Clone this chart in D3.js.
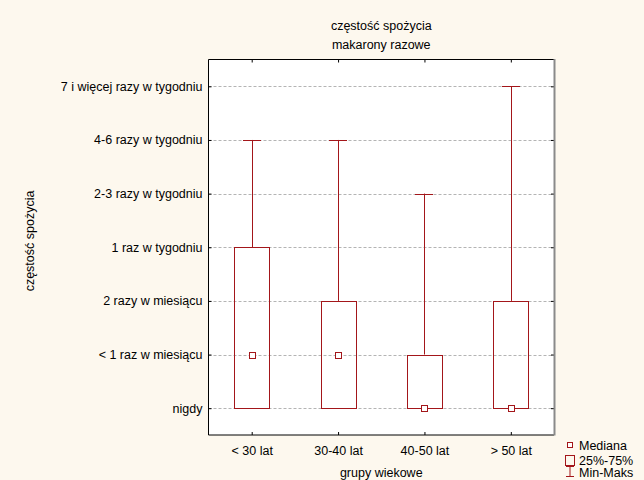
<!DOCTYPE html>
<html>
<head>
<meta charset="utf-8">
<script src="https://cdn.jsdelivr.net/npm/d3@7"></script>
<style>
  body { margin: 0; background: #fdf8ee; }
  svg { display: block; font-family: "Liberation Sans", Arial, sans-serif; }
</style>
</head>
<body>
<div id="chart"></div>
<script>
// data
const groups = ['< 30 lat', '30-40 lat', '40-50 lat', '> 50 lat'];
const levels = ['nigdy', '< 1 raz w miesiącu', '2 razy w miesiącu', '1 raz w tygodniu',
                '2-3 razy w tygodniu', '4-6 razy w tygodniu', '7 i więcej razy w tygodniu'];
const mins    = [0, 0, 0, 0];
const q1s     = [0, 0, 0, 0];
const medians = [1, 1, 0, 0];
const q3s     = [3, 2, 1, 2];
const maxs    = [5, 5, 4, 6];

const W = 644, H = 480;
const margin = { top: 59.5, right: 90, left: 208.5, bottom: 45 };
const red = '#a3161a';
const fs = 12.5;

const svg = d3.select('#chart').append('svg')
  .attr('width', W).attr('height', H);

svg.append('rect').attr('width', W).attr('height', H).attr('fill', '#fdf8ee');

const x = d3.scalePoint().domain(groups)
  .range([margin.left, W - margin.right]).padding(0.5);
const y = d3.scaleLinear().domain([-0.5, 6.5])
  .range([H - margin.bottom, margin.top]);

const x0 = margin.left, x1 = W - margin.right, y0 = margin.top, y1 = H - margin.bottom;

svg.append('rect')
  .attr('x', x0).attr('y', y0).attr('width', x1 - x0).attr('height', y1 - y0)
  .attr('fill', '#fff');

// grid
svg.append('g').selectAll('line')
  .data(d3.range(levels.length))
  .join('line')
  .attr('x1', x0).attr('x2', x1)
  .attr('y1', d => Math.round(y(d)) + 0.5).attr('y2', d => Math.round(y(d)) + 0.5)
  .attr('stroke', '#b4b4b4').attr('stroke-dasharray', '3,2');

// axes
const yAxis = d3.axisLeft(y).tickValues(d3.range(levels.length))
  .tickFormat(i => levels[i]).tickSize(-3).tickPadding(6);
const gy = svg.append('g').attr('transform', `translate(${x0},0)`).call(yAxis);
gy.select('.domain').remove();
gy.selectAll('text').attr('font-size', fs).attr('fill', '#000')
  .attr('font-family', '"Liberation Sans", Arial, sans-serif');

const gyr = svg.append('g').attr('transform', `translate(${x1},0)`)
  .call(d3.axisRight(y).tickValues(d3.range(levels.length)).tickFormat('').tickSize(-3));
gyr.select('.domain').remove();

const xAxis = d3.axisBottom(x).tickSize(-3).tickPadding(11);
const gx = svg.append('g').attr('transform', `translate(0,${y1})`).call(xAxis);
gx.select('.domain').remove();
gx.selectAll('text').attr('font-size', fs).attr('fill', '#000')
  .attr('font-family', '"Liberation Sans", Arial, sans-serif');

const gxt = svg.append('g').attr('transform', `translate(0,${y0})`)
  .call(d3.axisTop(x).tickSize(-3).tickFormat(''));
gxt.select('.domain').remove();

// frame
svg.append('path')
  .attr('d', `M${x1},${y0}H${x0}V${y1}H${x1}`)
  .attr('fill', 'none').attr('stroke', '#000');
svg.append('line')
  .attr('x1', x1 + 0.5).attr('x2', x1 + 0.5).attr('y1', y0 - 0.5).attr('y2', y1 + 0.5)
  .attr('stroke', '#8a8a8a').attr('stroke-width', 2);

// boxes
const boxW = 35, capW = 18, medS = 6;
const boxes = svg.append('g').selectAll('g')
  .data(groups.map((g, i) => ({ g, min: mins[i], q1: q1s[i], med: medians[i], q3: q3s[i], max: maxs[i] })))
  .join('g');

boxes.append('line')
  .attr('x1', d => Math.round(x(d.g)) + 0.5).attr('x2', d => Math.round(x(d.g)) + 0.5)
  .attr('y1', d => y(d.max)).attr('y2', d => y(d.q3))
  .attr('stroke', red);
boxes.append('line')
  .attr('x1', d => Math.round(x(d.g)) - capW / 2).attr('x2', d => Math.round(x(d.g)) + capW / 2)
  .attr('y1', d => Math.round(y(d.max)) + 0.5).attr('y2', d => Math.round(y(d.max)) + 0.5)
  .attr('stroke', red);
boxes.append('line')
  .attr('x1', d => Math.round(x(d.g)) - capW / 2).attr('x2', d => Math.round(x(d.g)) + capW / 2)
  .attr('y1', d => Math.round(y(d.min)) + 0.5).attr('y2', d => Math.round(y(d.min)) + 0.5)
  .attr('stroke', red);
boxes.append('rect')
  .attr('x', d => Math.round(x(d.g) - boxW / 2) + 0.5)
  .attr('y', d => Math.round(y(d.q3)) + 0.5)
  .attr('width', boxW)
  .attr('height', d => Math.round(y(d.q1)) - Math.round(y(d.q3)))
  .attr('fill', 'none').attr('stroke', red);
boxes.append('rect')
  .attr('x', d => Math.round(x(d.g) - medS / 2) + 0.5)
  .attr('y', d => Math.round(y(d.med) - medS / 2) + 0.5)
  .attr('width', medS).attr('height', medS)
  .attr('fill', '#fff').attr('stroke', red);

// titles
svg.append('text').attr('x', (x0 + x1) / 2).attr('y', 30)
  .attr('text-anchor', 'middle').attr('font-size', fs).text('częstość spożycia');
svg.append('text').attr('x', (x0 + x1) / 2).attr('y', 49)
  .attr('text-anchor', 'middle').attr('font-size', fs).text('makarony razowe');
svg.append('text').attr('x', (x0 + x1) / 2).attr('y', 477)
  .attr('text-anchor', 'middle').attr('font-size', fs).text('grupy wiekowe');
svg.append('text')
  .attr('transform', `translate(34,241) rotate(-90)`)
  .attr('text-anchor', 'middle').attr('font-size', fs).text('częstość spożycia');

// legend
const lg = svg.append('g').attr('font-size', fs);
lg.append('rect').attr('x', 567.5).attr('y', 442.5).attr('width', 5).attr('height', 5)
  .attr('fill', '#fff').attr('stroke', red);
lg.append('text').attr('x', 579).attr('y', 450).text('Mediana');
lg.append('rect').attr('x', 565.5).attr('y', 455.5).attr('width', 9).attr('height', 10)
  .attr('fill', 'none').attr('stroke', red);
lg.append('text').attr('x', 579).attr('y', 464.5).text('25%-75%');
lg.append('path').attr('d', 'M566,466.5H574M570,466.5V476.5M566,476.5H574')
  .attr('fill', 'none').attr('stroke', red);
lg.append('text').attr('x', 579).attr('y', 477).text('Min-Maks');
</script>
</body>
</html>
